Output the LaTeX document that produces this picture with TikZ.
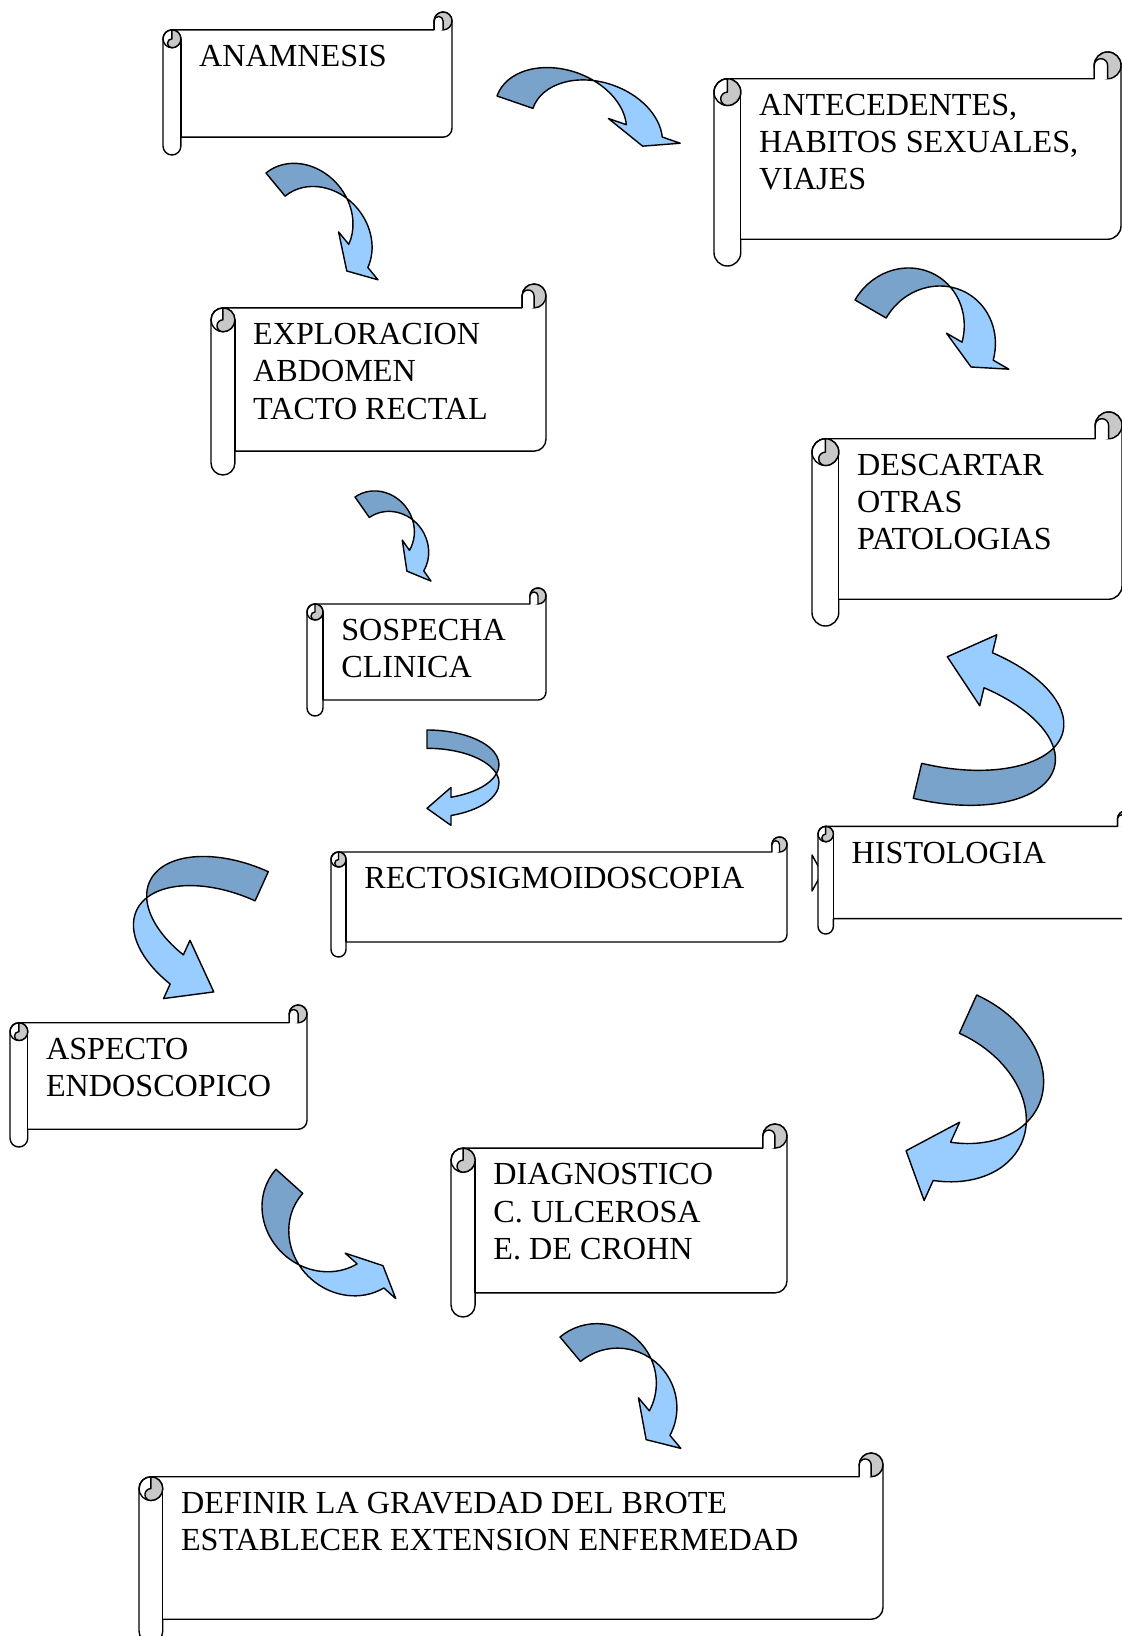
\documentclass[tikz,border=0pt]{standalone}
\usepackage{fontspec}
\setmainfont{Liberation Serif}
\definecolor{arrowdark}{RGB}{122,163,204}
\definecolor{arrowlight}{RGB}{153,204,255}
\definecolor{curlgrey}{RGB}{200,200,200}

\tikzset{
  scrollline/.style={draw=black, line width=0.8pt, line join=round},
  scrolltext/.style={inner sep=0pt, anchor=north west, align=left,
    font=\fontsize{18.3}{21.2}\selectfont},
  arrowline/.style={draw=black, line width=0.8pt, line join=round},
}

% scroll: name, left, top, right, bottom, text
\newcommand{\scroll}[6]{%
  \pgfmathsetmacro\cc{(#5-#3)/8}
  \pgfmathsetmacro\hh{\cc/2}
  \pgfmathsetmacro\qq{\cc/4}
  \filldraw[scrollline, fill=white] (#2,#3+\cc+\hh)
    arc[start angle=180, end angle=270, radius=\hh] -- (#4-\cc,#3+\cc)
    -- (#4-\cc,#3+\hh) arc[start angle=180, end angle=360, radius=\hh]
    -- (#4,#5-\cc-\hh) arc[start angle=0, end angle=90, radius=\hh]
    -- (#2+\cc,#5-\cc) -- (#2+\cc,#5-\hh)
    arc[start angle=0, end angle=180, radius=\hh] -- cycle;
  \draw[scrollline] (#2+\cc,#3+\cc+\hh) -- (#2+\cc,#5-\cc);
  % right curl
  \filldraw[scrollline, fill=curlgrey] (#4-\hh,#3+\hh) circle[radius=\hh];
  \fill[white] (#4-\cc,#3+\cc) -- (#4-\cc,#3+\hh)
    arc[start angle=180, end angle=360, radius=\qq] -- (#4-\hh,#3+\cc) -- cycle;
  \draw[scrollline] (#4-\cc,#3+\cc) -- (#4-\cc,#3+\hh)
    arc[start angle=180, end angle=360, radius=\qq] -- (#4-\hh,#3+\cc);
  % left curl
  \draw[scrollline] (#2+\hh,#3+\cc+\hh) circle[radius=\hh];
  \filldraw[scrollline, fill=curlgrey] (#2+\hh,#3+\cc)
    arc[start angle=270, end angle=450, radius=\hh]
    arc[start angle=90, end angle=270, radius=\qq] -- cycle;
  \node[scrolltext] (#1) at (#2+\cc+18,#3+\cc+15) {#6};
}

% bent arrow: x, y, rotation, yscale, radius, band, height, head width, head length
\newcommand{\bentarrow}[9]{%
  \begin{scope}[shift={(#1,#2)}, rotate=#3, yscale=#4]
    \pgfmathsetmacro\phiang{asin(#9/#7)}
    \pgfmathsetmacro\alphang{acos(#6/(2*#5))}
    \pgfmathsetmacro\xfive{#5+#5*cos(\phiang)}
    \pgfmathsetmacro\xseven{\xfive+#6}
    \pgfmathsetmacro\xfour{\xfive-(#8-#6)/2}
    \pgfmathsetmacro\xeight{\xseven+(#8-#6)/2}
    \pgfmathsetmacro\xsix{2*#5+#6/2}
    \pgfmathsetmacro\xcross{#5+#6/2}
    \pgfmathsetmacro\ycross{#7*sin(\alphang)}
    \fill[arrowlight] (\xcross,\ycross)
      arc[start angle=180-\alphang, end angle=\phiang, x radius=#5, y radius=#7]
      -- (\xeight,#9) -- (\xsix,0) -- (\xfour,#9) -- (\xfive,#9)
      arc[start angle=\phiang, end angle=\alphang, x radius=#5, y radius=#7] -- cycle;
    \fill[arrowdark] (\xcross,\ycross)
      arc[start angle=\alphang, end angle=180, x radius=#5, y radius=#7]
      -- (#6,0) arc[start angle=180, end angle=180-\alphang, x radius=#5, y radius=#7] -- cycle;
    \draw[arrowline] (\xcross,\ycross)
      arc[start angle=\alphang, end angle=180, x radius=#5, y radius=#7]
      -- (#6,0) arc[start angle=180, end angle=\phiang, x radius=#5, y radius=#7]
      -- (\xeight,#9) -- (\xsix,0) -- (\xfour,#9) -- (\xfive,#9)
      arc[start angle=\phiang, end angle=\alphang, x radius=#5, y radius=#7];
  \end{scope}
}

\begin{document}
\begin{tikzpicture}[x=0.02cm, y=-0.02cm]
\useasboundingbox (0,0) rectangle (1122,1636);

% arrows
\bentarrow{497}{96}{-19}{-1}{67.5}{38}{48}{76}{15}
\bentarrow{266}{173}{-50.5}{-1}{56}{30}{48}{62}{18.5}
\bentarrow{855}{300}{-30}{-1}{58}{36}{62}{72}{17}
\bentarrow{355}{497}{-55}{-1}{39}{25}{36}{50}{14}
\bentarrow{427}{730}{-90}{-1}{34.6}{18.3}{72}{38}{24}
\bentarrow{913.3}{798.3}{76.5}{1}{63.8}{36}{130}{73}{43}
\bentarrow{268.3}{871.7}{-114.4}{1}{58}{32}{104}{64}{43}
\bentarrow{976.7}{995}{-114.4}{-1}{75}{42}{102}{86}{37}
\bentarrow{276}{1169.3}{-42}{1}{63}{36}{58}{68}{16}
\bentarrow{560}{1337}{-50}{-1}{59}{32}{58}{66}{21}

% hidden arrow tip behind the histology scroll
\filldraw[arrowline, fill=white] (812,855) -- (822,873) -- (812,891) -- cycle;

% scrolls
\scroll{anamnesis}{163}{12}{452}{155}{ANAMNESIS}
\scroll{antecedentes}{714}{52}{1121}{266}{ANTECEDENTES,\\HABITOS SEXUALES,\\VIAJES}
\scroll{exploracion}{211}{284}{546}{475}{EXPLORACION\\ABDOMEN\\TACTO RECTAL}
\scroll{descartar}{812}{412}{1122}{626}{DESCARTAR\\OTRAS\\PATOLOGIAS}
\scroll{sospecha}{307}{588}{546}{716}{SOSPECHA\\CLINICA}
\scroll{recto}{331}{837}{787}{957}{RECTOSIGMOIDOSCOPIA}
\scroll{histologia}{818}{811}{1133}{934}{HISTOLOGIA}
\scroll{aspecto}{10}{1005}{307}{1147}{ASPECTO\\ENDOSCOPICO}
\scroll{diagnostico}{451}{1124}{787}{1317}{DIAGNOSTICO\\C. ULCEROSA\\E. DE CROHN}
\scroll{definir}{139}{1453}{883}{1643}{DEFINIR LA GRAVEDAD DEL BROTE\\ESTABLECER EXTENSION ENFERMEDAD}
\end{tikzpicture}
\end{document}
